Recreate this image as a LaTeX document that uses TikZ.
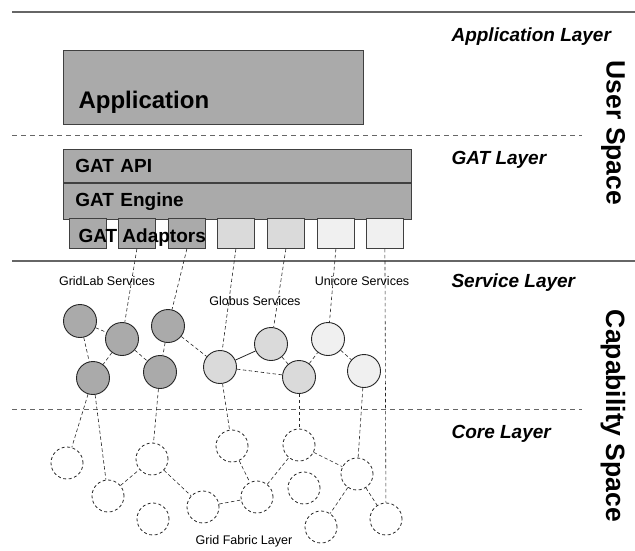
\documentclass[tikz,border=0pt]{standalone}
\usepackage{fontspec}
\setmainfont{Liberation Sans}
\usepackage{tikz}
\usetikzlibrary{positioning}
\usepackage{xcolor}

\definecolor{gridlab}{HTML}{AAAAAA}
\definecolor{globus}{HTML}{DADADA}
\definecolor{unicore}{HTML}{F0F0F0}
\newcommand{\fsz}[1]{\fontsize{#1}{#1}\selectfont}

\begin{document}
\begin{tikzpicture}[x=1pt, y=-1pt,
        box/.style={draw=black!75, fill=gridlab, line width=0.8pt, inner sep=0pt},
        serv/.style={circle, draw=black!85, line width=0.9pt, minimum size=33pt, inner sep=0pt},
        fabric/.style={circle, draw=black!85, dash pattern=on 3pt off 2.5pt, line width=0.8pt, minimum size=32pt, inner sep=0pt},
        link/.style={black!85, line width=0.6pt, dash pattern=on 3.5pt off 2.5pt},
        sep/.style={black!60, line width=0.8pt, dash pattern=on 5pt off 4pt},
        layer/.style={font=\fsz{19}\bfseries\itshape, anchor=west},
        space/.style={font=\fsz{26.5}\bfseries, rotate=-90},
        tag/.style={font=\fsz{12.5}}]
        \useasboundingbox (0,0) rectangle (635,550);

        \draw[black!60, line width=1.2pt] (12,12) -- (635,12);
        \draw[sep] (12,135) -- (582,135);
        \draw[black!60, line width=1.2pt] (12,261) -- (635,261);
        \draw[sep] (12,409) -- (582,409);

        \node[box, minimum width=300pt, minimum height=74pt, anchor=north west] (app) at (63,50) {};
        \node[font=\fsz{24}\bfseries, anchor=base west] (apptxt) at ([xshift=12pt, yshift=16pt]app.south west) {Application};
        \node[box, font=\fsz{19}\bfseries, text width=324pt, inner xsep=12pt, align=left, minimum height=33pt, anchor=north west] (api) at (63,149) {GAT API};
        \node[box, font=\fsz{19}\bfseries, text width=324pt, inner xsep=12pt, align=left, minimum height=36pt, anchor=north west] (engine) at (api.south west) {GAT Engine};

        \foreach \i/\x/\c in {1/69/gridlab, 2/118/gridlab, 3/168/gridlab, 4/217/globus, 5/267/globus, 6/317/unicore, 7/366/unicore}
            \node[box, fill=\c, minimum width=37pt, minimum height=30pt, anchor=north west] (ad\i) at (\x,218) {};
        \node[font=\fsz{19}\bfseries, anchor=base west] (adtxt) at (75,242) {GAT Adaptors};

        \foreach \n/\x/\y in {gl1/80/321, gl2/122/339, gl3/168/326, gl4/93/378, gl5/160/372}
            \node[serv, fill=gridlab] (\n) at (\x,\y) {};
        \foreach \n/\x/\y in {gb1/220/367, gb2/271/344, gb3/299/377}
            \node[serv, fill=globus] (\n) at (\x,\y) {};
        \foreach \n/\x/\y in {uc1/328/339, uc2/364/371}
            \node[serv, fill=unicore] (\n) at (\x,\y) {};
        \foreach \n/\x/\y in {f1/67/463, f2/108/496, f3/152/459, f4/153/519, f5/203/507, f6/232/446, f7/257/497, f8/299/445, f9/304/488, f10/357/474, f11/321/527, f12/386/519}
            \node[fabric] (\n) at (\x,\y) {};

        \foreach \a/\b in {ad2/gl2, ad3/gl3, ad4/gb1, ad5/gb2, ad6/uc1, ad7/f12}
            \draw[link] (\a.south) -- (\b);
        \foreach \a/\b in {gl1/gl2, gl1/gl4, gl2/gl4, gl2/gl5, gl3/gl5, gl3/gb1, gb1/gb3, gb2/gb3, gb3/uc1, uc1/uc2, gl4/f1, gl4/f2, gl5/f3, gb1/f6, gb3/f8, uc2/f10, f2/f3, f3/f5, f5/f7, f6/f7, f7/f8, f8/f10, f10/f11, f10/f12}
            \draw[link] (\a) -- (\b);
        \draw[black!85, line width=0.8pt] (gb1) -- (gb2);

        \node[tag] (gltag) at (107,281) {GridLab Services};
        \node[tag] (gbtag) at (255,301) {Globus Services};
        \node[tag] (uctag) at (362,281) {Unicore Services};
        \node[tag] (fabtag) at (244,541) {Grid Fabric Layer};

        \node[layer] (applayer) at (448,37) {Application Layer};
        \node[layer] (gatlayer) at (448,160) {GAT Layer};
        \node[layer] (servlayer) at (448,283) {Service Layer};
        \node[layer] (corelayer) at (448,434) {Core Layer};
        \node[space] (user) at (613,133) {User Space};
        \node[space] (capab) at (613,416) {Capability Space};
\end{tikzpicture}
\end{document}
